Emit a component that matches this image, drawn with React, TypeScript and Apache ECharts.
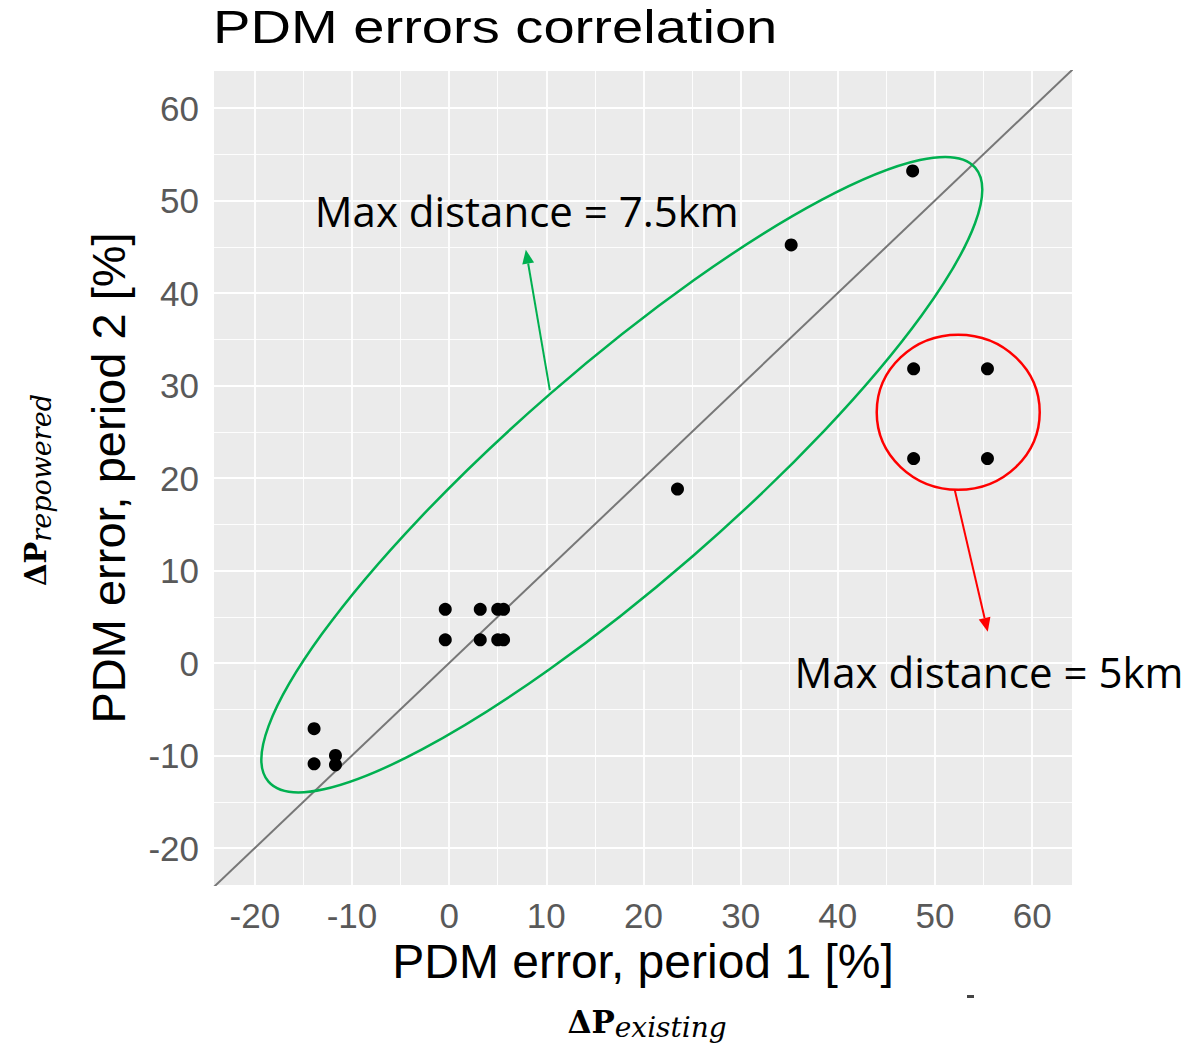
import React, { useEffect, useRef } from "react";
import * as echarts from "echarts";

// Axis ticks and ranges
const xTicks = [-20, -10, 0, 10, 20, 30, 40, 50, 60];
const yTicks = [-20, -10, 0, 10, 20, 30, 40, 50, 60];
const xMinor = [-15, -5, 5, 15, 25, 35, 45, 55];
const yMinor = [-15, -5, 5, 15, 25, 35, 45, 55];
const xRange = [-24.2, 64.1];
const yRange = [-24, 64];

// Data points: PDM error period 1 (x) vs period 2 (y)
const period1 = [-13.9, -13.9, -11.7, -11.7, -0.4, -0.4, 3.2, 3.2, 5.0, 5.0, 5.6, 5.6, 23.5, 35.2, 47.7, 47.8, 55.4, 47.8, 55.4];
const period2 = [-7.1, -10.9, -10.0, -11.0, 5.8, 2.5, 5.8, 2.5, 5.8, 2.5, 5.8, 2.5, 18.8, 45.2, 53.2, 31.8, 31.8, 22.1, 22.1];

// y = x reference line
const diagX = [-30, 70];
const diagY = [-30, 70];

const title = "PDM errors correlation";
const xName = "PDM error, period 1 [%]";
const yName = "PDM error, period 2 [%]";
const label75 = "Max distance = 7.5km";
const label5 = "Max distance = 5km";

function arrow(p0: number[], p1: number[], color: string) {
  const dx = p1[0] - p0[0];
  const dy = p1[1] - p0[1];
  const len = Math.sqrt(dx * dx + dy * dy);
  const ux = dx / len;
  const uy = dy / len;
  const hl = 14;
  const hw = 6;
  const bx = p1[0] - ux * hl;
  const by = p1[1] - uy * hl;
  return [
    {
      type: "line",
      shape: { x1: p0[0], y1: p0[1], x2: bx, y2: by },
      style: { stroke: color, lineWidth: 2 },
    },
    {
      type: "polygon",
      shape: {
        points: [
          [p1[0], p1[1]],
          [bx - uy * hw, by + ux * hw],
          [bx + uy * hw, by - ux * hw],
        ],
      },
      style: { fill: color },
    },
  ];
}

export default function App() {
  const ref = useRef<HTMLDivElement>(null);
  useEffect(() => {
    const chart = echarts.init(ref.current!, null, { renderer: "svg" });
    const points = period1.map((x, i) => [x, period2[i]]);
    const gridLines: any[] = [
      ...xTicks.map((v) => ({ xAxis: v, lineStyle: { width: 1.8 } })),
      ...xMinor.map((v) => ({ xAxis: v, lineStyle: { width: 0.9 } })),
      ...yTicks.map((v) => ({ yAxis: v, lineStyle: { width: 1.8 } })),
      ...yMinor.map((v) => ({ yAxis: v, lineStyle: { width: 0.9 } })),
    ];
    const tickFont = { fontFamily: "Liberation Sans", fontSize: 35, color: "#595959" };
    const nameFont = { fontFamily: "Liberation Sans", fontSize: 47, color: "#000" };
    const option: any = {
      animation: false,
      backgroundColor: "#ffffff",
      grid: {
        left: 214,
        top: 71,
        right: 120,
        bottom: 164,
        show: true,
        backgroundColor: "#EBEBEB",
        borderWidth: 0,
      },
      xAxis: {
        type: "value",
        min: xRange[0],
        max: xRange[1],
        name: xName,
        nameLocation: "middle",
        nameGap: 50,
        nameTextStyle: { ...nameFont, fontSize: 48 },
        axisLine: { show: false },
        axisTick: { show: true, length: 7, lineStyle: { color: "#333", width: 1.5 }, customValues: xTicks },
        axisLabel: { ...tickFont, margin: 13, customValues: xTicks },
        splitLine: { show: false },
      },
      yAxis: {
        type: "value",
        min: yRange[0],
        max: yRange[1],
        name: yName,
        nameLocation: "middle",
        nameGap: 82,
        nameTextStyle: nameFont,
        axisLine: { show: false },
        axisTick: { show: true, length: 7, lineStyle: { color: "#333", width: 1.5 }, customValues: yTicks },
        axisLabel: { ...tickFont, margin: 15, customValues: yTicks },
        splitLine: { show: false },
      },
      graphic: [
        {
          type: "text",
          x: 213,
          y: 27,
          scaleX: 1.22,
          style: {
            text: title,
            fontFamily: "Liberation Sans",
            fontSize: 46,
            fill: "#000",
            align: "left",
            verticalAlign: "middle",
          },
        },
        {
          type: "text",
          x: 647,
          y: 1026,
          style: {
            text: "{a|ΔP}{b|existing}",
            align: "center",
            verticalAlign: "middle",
            rich: {
              a: { fontFamily: "DejaVu Serif", fontWeight: "bold", fontSize: 31, lineHeight: 31, verticalAlign: "bottom", padding: [0, 0, 4, 0], fill: "#000" },
              b: { fontFamily: "DejaVu Serif", fontStyle: "italic", fontSize: 28, lineHeight: 28, verticalAlign: "bottom", fill: "#000" },
            },
          },
        },
        {
          type: "text",
          x: 40,
          y: 490,
          rotation: Math.PI / 2,
          style: {
            text: "{a|ΔP}{b|repowered}",
            align: "center",
            verticalAlign: "middle",
            rich: {
              a: { fontFamily: "DejaVu Serif", fontWeight: "bold", fontSize: 29, lineHeight: 29, verticalAlign: "bottom", padding: [0, 0, 4, 0], fill: "#000" },
              b: { fontFamily: "DejaVu Serif", fontStyle: "italic", fontSize: 27, lineHeight: 27, verticalAlign: "bottom", fill: "#000" },
            },
          },
        },
        {
          type: "rect",
          shape: { x: 967, y: 995, width: 7, height: 3 },
          style: { fill: "#444" },
        },
      ],
      series: [
        {
          type: "line",
          data: [],
          z: 1,
          silent: true,
          markLine: {
            z: 1,
            silent: true,
            symbol: ["none", "none"],
            label: { show: false },
            lineStyle: { color: "#ffffff", type: "solid" },
            emphasis: { disabled: true },
            data: gridLines,
          },
        },
        {
          type: "line",
          data: diagX.map((x, i) => [x, diagY[i]]),
          showSymbol: false,
          symbol: "none",
          lineStyle: { color: "#777777", width: 2 },
          z: 3,
          silent: true,
        },
        {
          type: "scatter",
          data: points,
          symbolSize: 13,
          itemStyle: { color: "#000", opacity: 1 },
          z: 4,
        },
        {
          type: "custom",
          z: 5,
          silent: true,
          data: [[17.77, 20.36]],
          renderItem: (params: any, api: any) => {
            const c1 = api.coord([17.77, 20.36]);
            const c2 = api.coord([52.39, 27.11]);
            const g0 = api.coord([10.36, 29.5]);
            const g1 = api.coord([7.89, 44.68]);
            const r0 = api.coord([52.03, 18.73]);
            const r1 = api.coord([55.43, 3.38]);
            const t1 = api.coord([-13.83, 48.9]);
            const t2 = api.coord([35.54, -0.94]);
            return {
              type: "group",
              children: [
                {
                  type: "ellipse",
                  x: c1[0],
                  y: c1[1],
                  rotation: (41 * Math.PI) / 180,
                  shape: { cx: 0, cy: 0, rx: 468, ry: 108 },
                  style: { fill: "none", stroke: "#00B050", lineWidth: 2.5 },
                },
                {
                  type: "ellipse",
                  shape: { cx: c2[0], cy: c2[1], rx: 81.5, ry: 77.5 },
                  style: { fill: "none", stroke: "#FF0000", lineWidth: 2.5 },
                },
                ...arrow(g0, g1, "#00B050"),
                ...arrow(r0, r1, "#FF0000"),
                {
                  type: "text",
                  x: t1[0],
                  y: t1[1],
                  style: { text: label75, fontFamily: "Open Sans", fontSize: 42, fill: "#000", align: "left", verticalAlign: "middle" },
                },
                {
                  type: "text",
                  x: t2[0],
                  y: t2[1],
                  style: { text: label5, fontFamily: "Open Sans", fontSize: 42, fill: "#000", align: "left", verticalAlign: "middle" },
                },
              ],
            };
          },
        },
      ],
    };
    chart.setOption(option);
    return () => chart.dispose();
  }, []);
  return (
    <div
      ref={ref}
      style={{ position: "fixed", left: 0, top: 0, width: 1192, height: 1049, background: "#fff" }}
    />
  );
}
